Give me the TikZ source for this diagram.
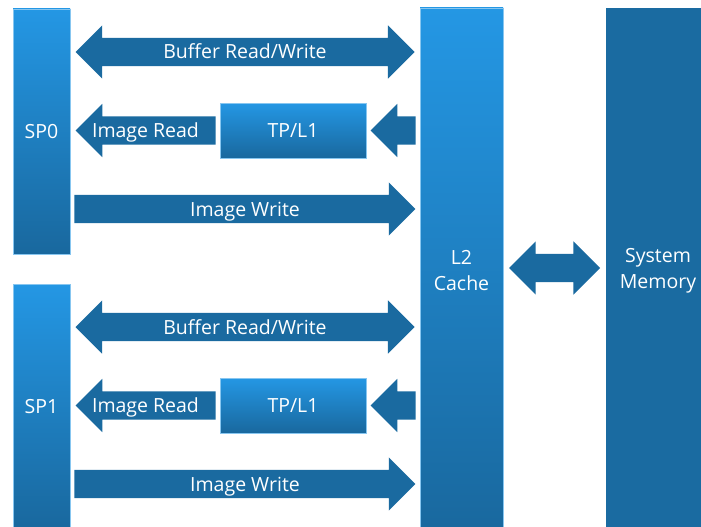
\documentclass[tikz,border=0pt]{standalone}
\usepackage{fontspec}
\setmainfont{Open Sans}
\usetikzlibrary{shapes.arrows,calc}

\definecolor{flowblue}{RGB}{26,106,160}
\definecolor{unittop}{RGB}{36,151,228}
\definecolor{unitbottom}{RGB}{25,104,158}
\definecolor{memblue}{RGB}{26,107,161}

\tikzset{
  label font/.style={font=\fontsize{19.5}{26}\selectfont},
  unit/.style={label font, draw=unittop!55!white, line width=0.5pt,
    top color=unittop, bottom color=unitbottom, text=white, align=center, inner sep=0pt},
  flow text/.style={label font, text=white, text height=14pt, text depth=0pt},
  flow/.style={flow text, fill=flowblue, inner ysep=7pt, inner xsep=2pt},
  oneway/.style={flow, single arrow, single arrow head extend=12.5pt, minimum width=53pt},
  twoway/.style={flow, double arrow, double arrow head extend=12.5pt, minimum width=53pt},
}

\begin{document}
\begin{tikzpicture}[x=1pt,y=-1pt]
    \useasboundingbox (0,0) rectangle (701,527);
    \fill[white] (0,0) rectangle (701,527);
    \node[unit, minimum width=83pt, minimum height=526pt] (l2) at (461.5,271) {L2\\Cache};
    \node[label font, fill=memblue, text=white, align=center, minimum width=104pt,
      minimum height=526pt, inner sep=0pt] (mem) at (658,271) {System\\Memory};
    \node[twoway, minimum height=91pt] (l2mem) at ($(l2.east |- 0,268)!0.5!(mem.west |- 0,268)$) {};
    % one shader processor with its paths to the L2
    \foreach \n/\o in {0/0,1/275}{
    \node[unit, minimum width=57pt, minimum height=245pt] (sp\n) at (41.5,{131.5+\o}) {SP\n};
    \node[unit, text height=14pt, text depth=0pt, minimum width=146pt, minimum height=55pt]
      (tp\n) at (293,{130.5+\o}) {TP/L1};
    \coordinate (bufrow\n) at (0,{52+\o});
    \coordinate (wrrow\n) at (0,{209+\o});
    \node[twoway, minimum height=339pt] (buf\n)
      at ($(sp\n.east |- bufrow\n)!0.5!(l2.west |- bufrow\n)$) {Buffer Read/Write};
    \node[oneway, shape border rotate=180, minimum height=140pt, anchor=tail] (rd\n)
      at ([xshift=-4pt]tp\n.west) {};
    \node[flow text] at ($(rd\n.tip)!0.5!(rd\n.tail)$) {Image Read};
    \node[oneway, shape border rotate=180, minimum height=45pt, anchor=tail] (feed\n)
      at ([xshift=-4pt]l2.west |- tp\n) {};
    \node[oneway, minimum height=341pt, anchor=tail] (wr\n)
      at ([xshift=4pt]sp\n.east |- wrrow\n) {};
    \node[flow text] at ($(wr\n.tip)!0.5!(wr\n.tail)$) {Image Write};
    }
\end{tikzpicture}
\end{document}
